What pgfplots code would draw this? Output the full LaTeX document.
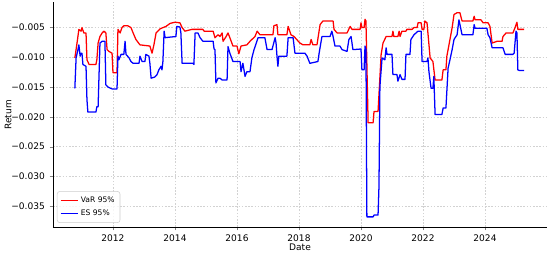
\documentclass[border=0pt]{standalone}
\usepackage{fontspec}
\setmainfont{DejaVu Sans}
\usepackage{pgfplots}
\pgfplotsset{compat=1.18}
\usetikzlibrary{calc}

\begin{document}
\begin{tikzpicture}
\begin{axis}[
    width=370.5pt, height=168.75pt, scale only axis,
    xmin=2010.065, xmax=2026.0, ymin=-0.0385, ymax=-0.0007,
    axis lines*=left,
    tick align=outside,
    major tick length=2.6pt,
    xtick={2012,2014,2016,2018,2020,2022,2024},
    xticklabels={2012,2014,2016,2018,2020,2022,2024},
    ytick={-0.035,-0.030,-0.025,-0.020,-0.015,-0.010,-0.005},
    yticklabels={−0.035,−0.030,−0.025,−0.020,−0.015,−0.010,−0.005},
    grid=major,
    major grid style={gray!35, line width=0.4pt, dash pattern=on 1.2pt off 1.2pt},
    tick label style={font=\fontsize{6.8}{8}\selectfont},
    label style={font=\fontsize{6.8}{8}\selectfont},
    xlabel={Date}, ylabel={Return},
    xlabel style={at={(axis description cs:0.5,0)}, anchor=center, yshift=-15pt},
    ylabel style={at={(axis description cs:-0.091,0.5)}, anchor=center},
    legend style={font=\fontsize{5.7}{6.8}\selectfont, at={(0.008,0.018)}, anchor=south west,
                  draw=gray!40, rounded corners=2pt, fill=white, fill opacity=0.8, text opacity=1,
                  cells={anchor=west}, row sep=0pt, inner sep=2pt},
    legend image code/.code={\draw[#1] (0pt,0pt) -- (12.75pt,0pt);},
    every axis plot/.append style={line width=0.95pt, line join=round},
  ]
\addplot[red] coordinates {
(2010.77,-0.0101) (2010.84,-0.0076) (2010.90,-0.0053) (2010.97,-0.0056) (2011.00,-0.0050)
(2011.06,-0.0059) (2011.13,-0.0059) (2011.16,-0.0104) (2011.23,-0.0112) (2011.45,-0.0112)
(2011.48,-0.0104) (2011.52,-0.0076) (2011.58,-0.0065) (2011.65,-0.0059) (2011.71,-0.0056)
(2011.77,-0.0059) (2011.81,-0.0087) (2011.87,-0.0090) (2011.97,-0.0093) (2012.00,-0.0126)
(2012.13,-0.0126) (2012.16,-0.0053) (2012.23,-0.0059) (2012.29,-0.0050) (2012.35,-0.0047)
(2012.48,-0.0047) (2012.58,-0.0050) (2012.65,-0.0059) (2012.74,-0.0070) (2012.87,-0.0079)
(2013.03,-0.0080) (2013.19,-0.0081) (2013.26,-0.0093) (2013.32,-0.0079) (2013.39,-0.0059)
(2013.52,-0.0052) (2013.71,-0.0048) (2013.84,-0.0043) (2014.00,-0.0041) (2014.16,-0.0042)
(2014.23,-0.0050) (2014.32,-0.0056) (2014.55,-0.0053) (2014.90,-0.0053) (2014.94,-0.0056)
(2015.23,-0.0056) (2015.29,-0.0067) (2015.39,-0.0062) (2015.45,-0.0065) (2015.52,-0.0059)
(2015.55,-0.0073) (2015.65,-0.0065) (2015.71,-0.0059) (2015.77,-0.0067) (2015.87,-0.0081)
(2016.00,-0.0081) (2016.06,-0.0094) (2016.13,-0.0081) (2016.32,-0.0079) (2016.42,-0.0073)
(2016.58,-0.0065) (2016.65,-0.0056) (2016.74,-0.0062) (2017.16,-0.0062) (2017.19,-0.0047)
(2017.29,-0.0045) (2017.32,-0.0062) (2017.61,-0.0062) (2017.65,-0.0048) (2017.74,-0.0062)
(2017.84,-0.0065) (2018.03,-0.0076) (2018.13,-0.0079) (2018.35,-0.0079) (2018.39,-0.0070)
(2018.45,-0.0079) (2018.58,-0.0079) (2018.68,-0.0045) (2018.77,-0.0039) (2019.10,-0.0039)
(2019.13,-0.0053) (2019.23,-0.0059) (2019.55,-0.0059) (2019.65,-0.0048) (2019.71,-0.0053)
(2019.97,-0.0053) (2020.00,-0.0042) (2020.03,-0.0050) (2020.10,-0.0050) (2020.13,-0.0036)
(2020.16,-0.0039) (2020.23,-0.0210) (2020.39,-0.0210) (2020.42,-0.0191) (2020.55,-0.0191)
(2020.65,-0.0095) (2020.71,-0.0076) (2020.81,-0.0065) (2021.00,-0.0065) (2021.03,-0.0056)
(2021.06,-0.0065) (2021.19,-0.0065) (2021.23,-0.0056) (2021.26,-0.0065) (2021.32,-0.0056)
(2021.45,-0.0056) (2021.48,-0.0053) (2021.65,-0.0053) (2021.71,-0.0050) (2021.81,-0.0050)
(2021.84,-0.0042) (2021.94,-0.0042) (2021.97,-0.0053) (2022.03,-0.0053) (2022.06,-0.0039)
(2022.13,-0.0042) (2022.23,-0.0101) (2022.32,-0.0107) (2022.39,-0.0138) (2022.61,-0.0138)
(2022.65,-0.0121) (2022.74,-0.0121) (2022.77,-0.0098) (2022.87,-0.0070) (2022.94,-0.0050)
(2023.00,-0.0028) (2023.10,-0.0025) (2023.19,-0.0025) (2023.26,-0.0039) (2023.61,-0.0039)
(2023.65,-0.0031) (2023.68,-0.0037) (2023.87,-0.0037) (2023.94,-0.0042) (2024.10,-0.0042)
(2024.16,-0.0048) (2024.23,-0.0076) (2024.39,-0.0073) (2024.55,-0.0073) (2024.58,-0.0065)
(2024.68,-0.0059) (2024.90,-0.0059) (2024.97,-0.0050) (2025.03,-0.0041) (2025.06,-0.0053)
(2025.26,-0.0053)
};
\addlegendentry{VaR 95\%}
\addplot[blue] coordinates {
(2010.77,-0.0152) (2010.81,-0.0101) (2010.87,-0.0087) (2010.90,-0.0079) (2010.94,-0.0098)
(2010.97,-0.0093) (2011.00,-0.0093) (2011.03,-0.0112) (2011.13,-0.0115) (2011.16,-0.0171)
(2011.19,-0.0192) (2011.45,-0.0192) (2011.48,-0.0183) (2011.52,-0.0183) (2011.58,-0.0076)
(2011.65,-0.0073) (2011.74,-0.0073) (2011.77,-0.0146) (2011.84,-0.0150) (2011.97,-0.0153)
(2012.13,-0.0153) (2012.16,-0.0098) (2012.19,-0.0104) (2012.26,-0.0095) (2012.35,-0.0095)
(2012.39,-0.0073) (2012.42,-0.0095) (2012.52,-0.0101) (2012.58,-0.0107) (2012.65,-0.0110)
(2012.84,-0.0110) (2012.87,-0.0098) (2012.94,-0.0107) (2013.03,-0.0107) (2013.06,-0.0095)
(2013.16,-0.0098) (2013.19,-0.0110) (2013.23,-0.0135) (2013.35,-0.0133) (2013.42,-0.0129)
(2013.48,-0.0121) (2013.55,-0.0115) (2013.58,-0.0121) (2013.61,-0.0107) (2013.65,-0.0056)
(2013.68,-0.0067) (2013.84,-0.0066) (2014.03,-0.0065) (2014.06,-0.0048) (2014.16,-0.0049)
(2014.19,-0.0059) (2014.23,-0.0110) (2014.58,-0.0110) (2014.61,-0.0112) (2014.65,-0.0059)
(2014.74,-0.0059) (2014.81,-0.0067) (2014.90,-0.0073) (2015.23,-0.0073) (2015.26,-0.0086)
(2015.29,-0.0087) (2015.32,-0.0143) (2015.39,-0.0135) (2015.45,-0.0135) (2015.52,-0.0138)
(2015.68,-0.0138) (2015.71,-0.0082) (2015.77,-0.0093) (2015.87,-0.0107) (2016.10,-0.0107)
(2016.13,-0.0124) (2016.19,-0.0110) (2016.26,-0.0132) (2016.32,-0.0124) (2016.42,-0.0124)
(2016.48,-0.0101) (2016.55,-0.0087) (2016.68,-0.0067) (2016.90,-0.0067) (2016.97,-0.0087)
(2017.13,-0.0087) (2017.16,-0.0081) (2017.23,-0.0067) (2017.26,-0.0076) (2017.29,-0.0098)
(2017.32,-0.0115) (2017.35,-0.0098) (2017.61,-0.0098) (2017.65,-0.0067) (2017.81,-0.0067)
(2017.87,-0.0093) (2018.19,-0.0093) (2018.26,-0.0098) (2018.35,-0.0110) (2018.61,-0.0107)
(2018.65,-0.0093) (2018.74,-0.0065) (2019.00,-0.0065) (2019.06,-0.0056) (2019.10,-0.0065)
(2019.16,-0.0081) (2019.32,-0.0081) (2019.39,-0.0087) (2019.55,-0.0090) (2019.61,-0.0070)
(2019.68,-0.0065) (2019.74,-0.0087) (2020.00,-0.0086) (2020.03,-0.0121) (2020.10,-0.0121)
(2020.13,-0.0081) (2020.16,-0.0087) (2020.19,-0.0368) (2020.39,-0.0368) (2020.42,-0.0365)
(2020.55,-0.0365) (2020.58,-0.0317) (2020.61,-0.0149) (2020.68,-0.0101) (2020.77,-0.0104)
(2020.81,-0.0084) (2020.84,-0.0095) (2021.00,-0.0095) (2021.03,-0.0129) (2021.16,-0.0129)
(2021.19,-0.0140) (2021.26,-0.0129) (2021.32,-0.0137) (2021.42,-0.0137) (2021.45,-0.0095)
(2021.58,-0.0095) (2021.61,-0.0070) (2021.71,-0.0062) (2021.84,-0.0056) (2021.94,-0.0056)
(2021.97,-0.0107) (2022.13,-0.0107) (2022.16,-0.0101) (2022.19,-0.0123) (2022.26,-0.0152)
(2022.32,-0.0152) (2022.35,-0.0132) (2022.39,-0.0196) (2022.61,-0.0196) (2022.65,-0.0185)
(2022.74,-0.0185) (2022.81,-0.0118) (2022.87,-0.0104) (2022.94,-0.0087) (2023.00,-0.0070)
(2023.10,-0.0062) (2023.16,-0.0037) (2023.26,-0.0062) (2023.61,-0.0062) (2023.65,-0.0045)
(2023.68,-0.0051) (2024.06,-0.0051) (2024.10,-0.0062) (2024.16,-0.0067) (2024.23,-0.0084)
(2024.58,-0.0084) (2024.65,-0.0095) (2024.90,-0.0095) (2024.94,-0.0093) (2025.00,-0.0056)
(2025.03,-0.0059) (2025.06,-0.0121) (2025.10,-0.0122) (2025.26,-0.0122)
};
\addlegendentry{ES 95\%}
\end{axis}
\pgfresetboundingbox
\path ($(current axis.south west)+(-39.75pt,-20.25pt)$) rectangle ($(current axis.north east)+(2.25pt,1.5pt)$);
\end{tikzpicture}
\end{document}
